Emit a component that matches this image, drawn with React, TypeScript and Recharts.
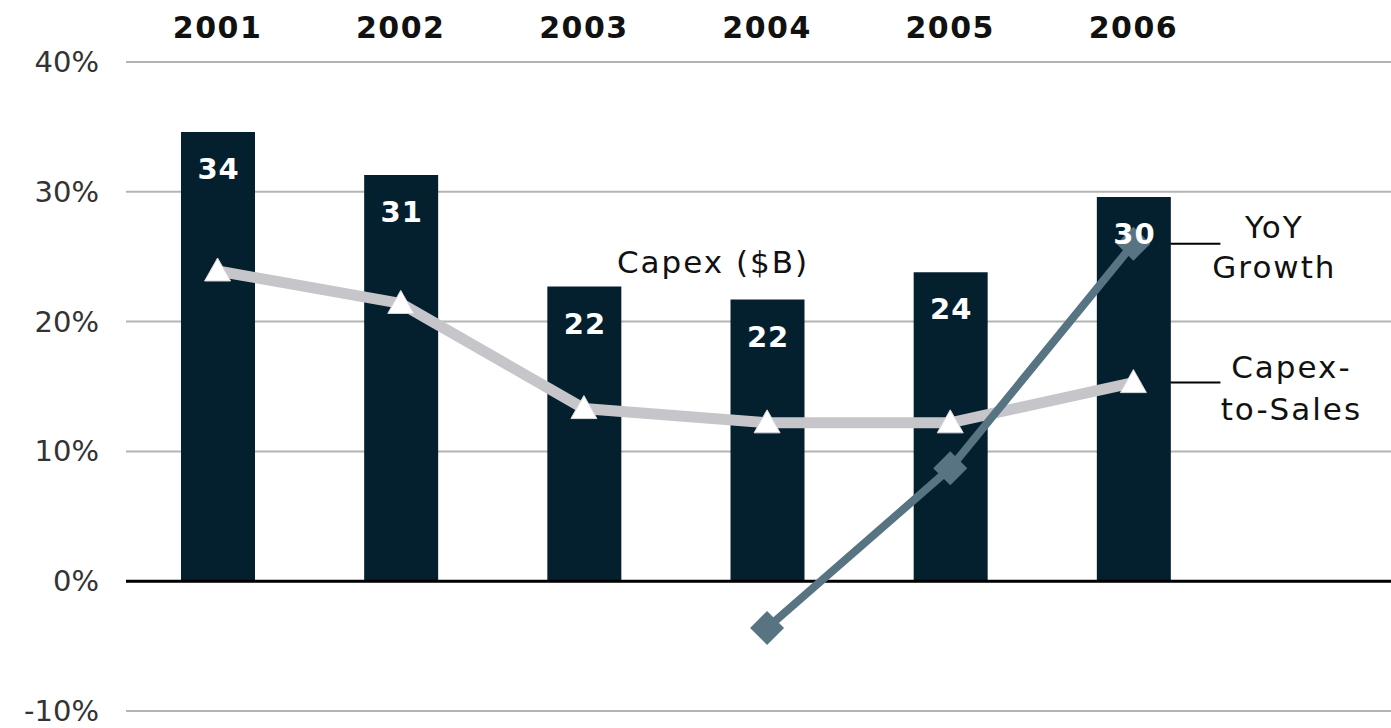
import React from "react";
import {
	ComposedChart,
	Bar,
	Line,
	XAxis,
	YAxis,
	CartesianGrid,
	ReferenceLine,
	ReferenceDot,
	LabelList,
} from "recharts";

const years = ["2001", "2002", "2003", "2004", "2005", "2006"];
const capexBillions = [34, 31, 22, 22, 24, 30];
const capexBarHeight = [34.6, 31.3, 22.7, 21.7, 23.8, 29.6];
const capexToSales = [23.9, 21.4, 13.3, 12.2, 12.2, 15.3];
const yoyGrowth = [null, null, null, -3.6, 8.7, 26.0];
const yTicks = [-10, 0, 10, 20, 30, 40];

const data = years.map((year, i) => ({
	year,
	bar: capexBarHeight[i],
	label: capexBillions[i],
	sales: capexToSales[i],
	yoy: yoyGrowth[i],
}));

const FONT = "'DejaVu Sans', Verdana, sans-serif";
const NAVY = "#04202f";
const GRAY = "#c6c6ca";
const SLATE = "#587482";
const last = data.length - 1;

const Triangle = (props: any) => {
	const { cx, cy, index } = props;
	if (cx == null || cy == null) return <g key={"t" + index} />;
	return (
		<polygon
			key={"t" + index}
			points={`${cx},${cy - 13} ${cx + 13},${cy + 10} ${cx - 13},${cy + 10}`}
			fill='#ffffff'
			stroke='#d8d8dc'
			strokeWidth={1}
		/>
	);
};

const Diamond = (props: any) => {
	const { cx, cy, index, value } = props;
	if (cx == null || cy == null || value == null) return <g key={"d" + index} />;
	return (
		<polygon
			key={"d" + index}
			points={`${cx},${cy - 17} ${cx + 17},${cy} ${cx},${cy + 17} ${cx - 17},${cy}`}
			fill={SLATE}
		/>
	);
};

const BarValue = (props: any) => {
	const { x, y, value } = props;
	return (
		<text
			x={x + 1}
			y={y + 37}
			textAnchor='middle'
			dominantBaseline='central'
			fill='#ffffff'
			fontSize={29}
			fontWeight='bold'
			letterSpacing={1}
			fontFamily={FONT}>
			{value}
		</text>
	);
};

const YTick = (props: any) => {
	const { x, y, payload } = props;
	return (
		<text
			x={x}
			y={y}
			textAnchor='end'
			dominantBaseline='central'
			fill='#333'
			fontSize={29}
			fontFamily={FONT}>
			{`${payload.value}%`}
		</text>
	);
};

// side annotation tied to the last point of a series
const sideTag = (lines: string[], dx: number, dys: number[]) => (props: any) => {
	const { x, y, index } = props;
	if (index !== last || x == null || y == null) return null;
	return (
		<g>
			<line x1={x + 37} x2={x + 87} y1={y} y2={y} stroke='#000' strokeWidth={2} />
			{lines.map((t, i) => (
				<text
					key={t}
					x={x + dx}
					y={y + dys[i]}
					textAnchor='middle'
					dominantBaseline='central'
					fill='#111'
					fontSize={31}
					letterSpacing={2}
					fontFamily={FONT}>
					{t}
				</text>
			))}
		</g>
	);
};

export default function App() {
	return (
		<div style={{ position: "absolute", left: 0, top: 0, background: "#fff" }}>
			<ComposedChart
				width={1391}
				height={728}
				data={data}
				margin={{ top: 0, right: 0, bottom: 17, left: 0 }}
				barCategoryGap={0}>
				<CartesianGrid vertical={false} stroke='#b4b4b4' strokeWidth={2} />
				<XAxis
					dataKey='year'
					orientation='top'
					height={62}
					axisLine={false}
					tickLine={false}
					tickSize={0}
					tickMargin={24}
					padding={{ left: 0, right: 166 }}
					tick={{
						fontSize: 30,
						fontWeight: "bold",
						fill: "#111",
						fontFamily: FONT,
						letterSpacing: 1.5,
					}}
				/>
				<YAxis
					domain={[-10, 40]}
					ticks={yTicks}
					interval={0}
					width={126}
					axisLine={false}
					tickLine={false}
					tickSize={0}
					tickMargin={27}
					tick={YTick}
				/>
				<Bar dataKey='bar' fill={NAVY} barSize={74} isAnimationActive={false} />
				<ReferenceLine y={0} stroke='#000' strokeWidth={3} />
				<ReferenceDot
					x='2004'
					y={24.6}
					r={1}
					fill='none'
					stroke='none'
					label={{
						value: "Capex ($B)",
						position: "center",
						dx: -54,
						fontSize: 31,
						fill: "#111",
						fontFamily: FONT,
						letterSpacing: 2,
					}}
				/>
				<Line
					type='linear'
					dataKey='sales'
					stroke={GRAY}
					strokeWidth={11}
					dot={Triangle}
					activeDot={false}
					isAnimationActive={false}>
					<LabelList dataKey='sales' content={sideTag(["Capex-", "to-Sales"], 158, [-16, 26])} />
				</Line>
				<Line
					type='linear'
					dataKey='yoy'
					stroke={SLATE}
					strokeWidth={8}
					dot={Diamond}
					activeDot={false}
					connectNulls={false}
					isAnimationActive={false}>
					<LabelList dataKey='yoy' content={sideTag(["YoY", "Growth"], 141, [-17, 23])} />
				</Line>
				<Line
					type='linear'
					dataKey='bar'
					stroke='none'
					dot={false}
					activeDot={false}
					legendType='none'
					isAnimationActive={false}>
					<LabelList dataKey='label' content={BarValue} />
				</Line>
			</ComposedChart>
		</div>
	);
}
